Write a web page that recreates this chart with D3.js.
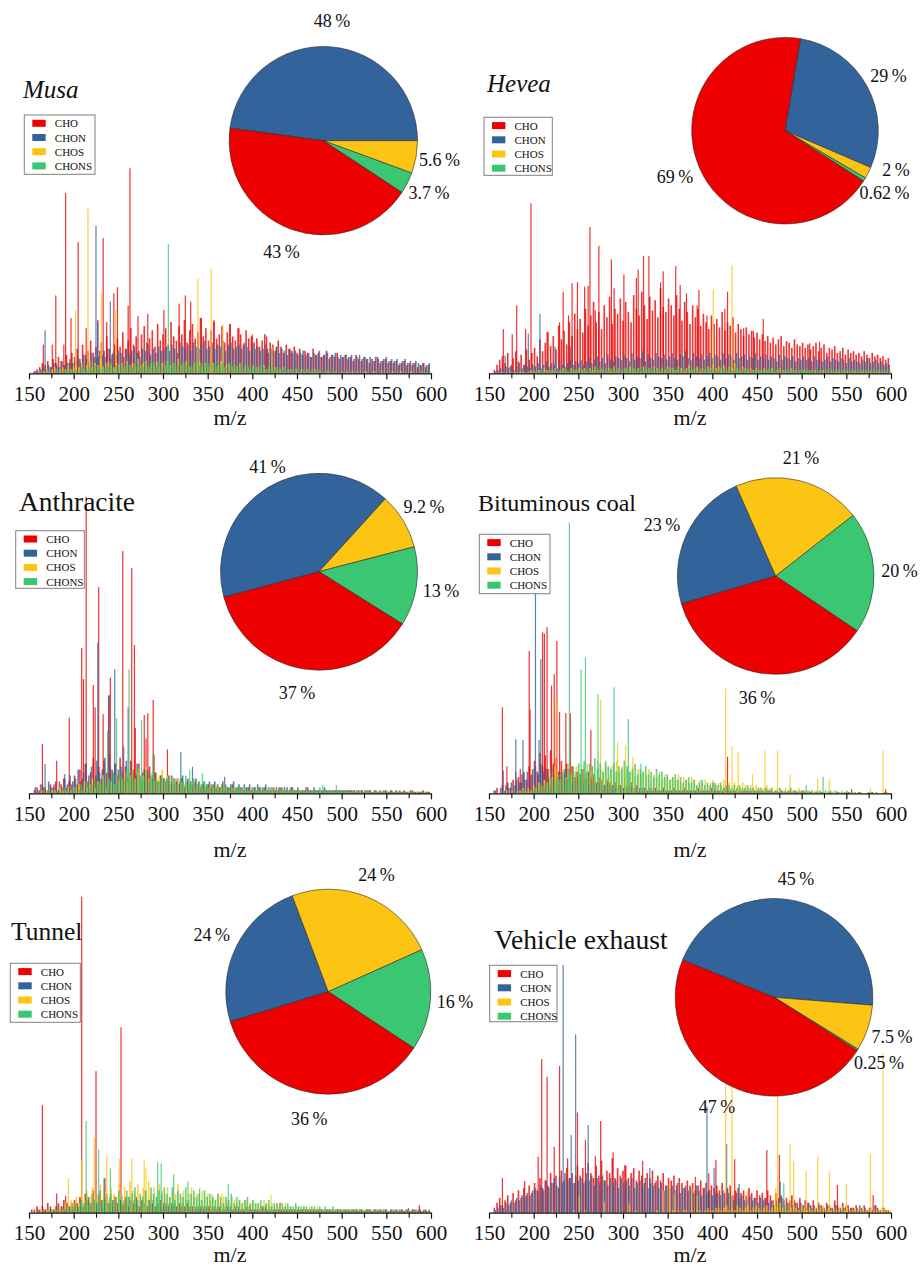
<!DOCTYPE html>
<html>
<head>
<meta charset="utf-8">
<script src="https://cdn.jsdelivr.net/npm/d3@7/dist/d3.min.js"></script>
<style>
  body { margin: 0; background: #fff; }
  svg { display: block; }
  svg text { font-family: "Liberation Serif", "Times New Roman", serif; fill: #111; }
</style>
</head>
<body>
<svg id="fig" width="921" height="1266"></svg>
<script>
// ---- compound classes ----
const classes = ["CHO", "CHON", "CHOS", "CHONS"];
const classColors = ["#ee0000", "#32649b", "#fdc513", "#3ac673"];
const pieOrder = ["CHON", "CHOS", "CHONS", "CHO"];

// ---- axis ticks ----
const majorTicks = [150, 200, 250, 300, 350, 400, 450, 500, 550, 600];
const minorTicks = [175, 225, 275, 325, 375, 425, 475, 525, 575];

// ---- class shares (%) in CHO, CHON, CHOS, CHONS order ----
const pieMusa       = [43, 48, 5.6, 3.7];
const pieHevea      = [69, 29, 2, 0.62];
const pieAnthracite = [37, 41, 9.2, 13];
const pieBituminous = [36, 23, 21, 20];
const pieTunnel     = [36, 24, 24, 16];
const pieVehicle    = [47, 45, 7.5, 0.25];

// ---- spectra: background intensities every 3 m/z from 150 (relative, tallest peak = 100) ----
const baseMusaCHO = [0,0,1,2,3,5,4,6,3,7,5,8,6,4,9,5,10,
 8,12,7,14,9,11,16,10,13,8,15,11,18,12,9,14,17,
 13,20,12,16,22,14,18,11,19,23,15,17,21,13,24,16,19,
 22,14,25,18,16,23,19,26,15,21,24,17,20,27,18,22,16,
 21,25,17,19,23,15,20,24,18,16,22,19,14,21,17,18,15,
 17,13,16,19,12,15,14,11,16,13,10,14,12,11,13,10,12,
 9,11,10,8,12,9,10,8,9,11,7,9,8,10,7,8,9,
 7,8,6,9,7,6,8,7,5,7,6,8,5,6,7,5,6,
 5,6,4,5,6,4,5,4,5,3,4,5,3,4];
const baseMusaCHON = [0,0,1,1,2,3,2,4,3,5,4,3,6,4,5,7,5,
 6,8,5,9,7,6,10,8,7,11,9,8,12,7,10,9,11,
 10,8,12,9,11,13,10,8,12,11,14,9,12,10,13,11,12,
 13,11,14,12,10,15,13,12,14,11,15,13,12,14,16,12,13,
 15,12,14,13,16,11,14,15,12,13,14,12,15,13,11,14,12,
 13,11,12,14,10,12,11,13,10,12,11,9,12,10,11,9,10,
 11,9,10,8,10,9,11,8,9,10,8,9,10,8,9,8,9,
 8,9,7,8,9,7,8,7,8,6,8,7,6,7,8,6,7,
 6,7,5,6,7,5,6,5,6,5,4,5,4,5];
const baseMusaCHOS = [0,0,0,1,0,1,2,1,2,3,1,2,3,2,4,2,3,
 4,3,5,2,4,6,3,5,4,7,3,5,6,4,3,5,4,
 5,3,6,4,5,3,7,4,5,6,3,5,4,6,3,5,4,
 6,4,5,3,7,4,5,6,4,3,5,4,6,3,5,4,3,
 5,3,4,6,3,4,5,3,4,3,5,2,4,3,2,4,3,
 3,2,4,2,3,1,3,2,2,3,1,2,2,1,2,1,2,
 1,2,1,1,2,1,1,0,1,1,0,1,1,0,1,0,1,
 0,1,0,1,0,0,1,0,0,1,0,0,1,0,0,0,1,
 0,0,1,0,0,0,1,0,0,0,1,0,0,1];
const baseMusaCHONS = [0,0,0,0,1,0,1,1,0,1,2,1,1,2,1,2,1,
 2,1,3,2,2,3,2,4,3,2,4,3,3,5,2,4,3,
 4,3,5,4,3,5,4,6,3,5,4,5,6,4,5,3,6,
 5,4,6,5,4,6,5,4,6,3,5,6,4,5,4,6,5,
 4,5,6,4,5,3,5,4,5,4,3,5,4,3,4,3,4,
 3,4,3,2,4,3,2,3,3,2,3,2,2,3,2,2,1,
 2,1,2,2,1,1,2,1,1,2,1,1,1,0,1,1,0,
 1,0,1,1,0,1,0,1,0,0,1,0,1,0,0,1,0,
 0,1,0,0,1,0,0,1,0,0,1,0,1,1];

const baseHeveaCHO = [0,0,2,5,8,10,6,12,4,9,13,7,11,5,14,8,12,
 15,10,20,13,18,24,16,22,14,28,20,25,17,30,22,35,26,
 32,24,38,28,34,42,30,36,26,40,33,45,29,38,35,44,31,
 42,36,30,46,38,34,48,40,32,45,37,43,33,50,39,36,44,
 40,34,46,38,31,42,36,29,40,33,38,28,35,30,26,34,29,
 32,27,36,25,30,28,33,24,29,26,22,27,23,25,21,24,20,
 23,19,22,18,21,17,20,22,16,19,18,15,20,17,16,18,15,
 17,14,16,18,13,15,17,12,15,14,16,12,13,15,11,14,12,
 13,11,12,10,13,11,9,12,10,11,9,10,8,9];
const baseHeveaCHON = [0,0,1,2,3,2,4,3,5,2,4,6,3,5,4,3,5,
 4,6,3,5,7,4,6,5,3,7,5,4,6,8,5,7,6,
 8,5,7,9,6,8,10,7,9,6,11,8,7,10,9,8,11,
 9,7,12,8,10,9,13,7,11,9,8,12,10,9,11,8,10,
 12,9,8,11,10,13,9,8,12,10,9,11,8,10,12,9,11,
 10,8,12,9,11,10,8,12,9,10,11,8,10,9,12,8,10,
 9,11,8,10,9,7,11,8,10,9,8,10,7,9,8,10,8,
 9,7,10,8,9,7,8,10,7,9,8,7,9,8,6,9,7,
 8,7,6,8,7,9,6,7,8,6,7,5,6,5];
const baseHeveaCHOS = [0,0,0,0,1,0,0,1,0,1,0,1,1,0,1,2,1,
 1,2,1,3,2,1,2,3,1,2,3,2,1,3,2,2,3,
 2,3,1,3,2,4,2,3,2,1,3,2,4,2,3,1,3,
 2,4,3,2,3,1,4,2,3,2,4,3,2,3,2,4,3,
 3,2,4,3,2,3,5,2,3,4,2,3,2,4,3,5,3,
 4,3,5,2,4,3,6,3,2,4,3,2,3,2,3,2,2,
 3,2,2,3,1,2,3,2,2,1,3,2,2,1,2,2,1,
 2,1,2,1,2,2,1,2,1,1,2,1,1,2,1,1,2,
 1,1,2,1,1,2,1,1,1,2,1,1,1,1];
const baseHeveaCHONS = [0,0,0,0,0,1,0,0,1,0,1,0,1,1,0,1,1,
 1,1,2,1,2,1,2,3,1,2,2,3,1,2,3,2,2,
 3,2,2,3,1,3,2,4,2,3,2,3,4,2,3,2,3,
 3,2,4,3,2,3,2,4,3,2,3,2,3,4,2,3,2,
 3,2,3,2,4,2,3,2,3,2,3,2,2,3,2,3,2,
 2,3,2,2,3,2,2,3,2,2,2,3,2,2,2,3,2,
 2,2,3,2,2,2,3,2,2,2,2,3,2,2,2,2,3,
 2,2,2,3,2,2,2,2,3,2,2,2,2,3,2,2,2,
 2,2,3,2,2,2,2,3,2,2,2,2,2,2];

const baseAnthraciteCHO = [0,0,1,2,1,3,2,1,3,2,4,1,3,5,2,4,3,
 6,3,8,5,10,4,7,12,6,9,5,11,7,13,8,10,6,
 12,7,9,5,11,8,6,10,4,8,6,9,5,7,4,6,5,
 4,6,3,5,4,3,5,2,4,3,2,4,3,2,3,2,3,
 2,3,2,2,3,1,2,2,3,1,2,2,1,2,2,1,2,
 1,2,1,2,1,1,2,1,1,2,1,1,1,2,1,1,1,
 1,1,2,1,1,1,1,1,1,1,1,1,1,1,1,1,1,
 1,1,1,0.5,1,1,0.5,1,1,0.5,1,0.5,1,0.5,1,0.5,1,
 0.5,1,0.5,0.5,1,0.5,0.5,1,0.5,0.5,0.5,1,0.5,0.5];
const baseAnthraciteCHON = [0,0,2,1,3,2,1,4,2,3,1,4,2,5,3,6,4,
 5,8,4,7,10,6,9,5,11,7,8,12,6,9,7,10,8,
 9,6,11,7,8,5,10,6,7,4,8,5,6,7,4,6,5,
 5,4,6,3,5,4,6,3,5,4,3,5,4,3,4,3,4,
 3,4,3,2,4,3,2,3,4,2,3,2,3,2,3,2,2,
 3,2,2,3,2,2,1,2,2,1,2,2,1,2,1,2,1,
 1,2,1,1,2,1,1,1,2,1,1,1,1,1,1,1,1,
 1,1,1,1,0.5,1,1,0.5,1,0.5,1,0.5,0.5,1,0.5,0.5,1,
 0.5,0.5,1,0.5,0.5,0.5,1,0.5,0.5,0.5,0.5,0.5,0.5,0.5];
const baseAnthraciteCHOS = [0,0,0,0,1,0,1,0,1,1,0,2,1,1,2,1,2,
 2,3,1,4,2,3,5,2,4,3,6,2,5,4,3,6,4,
 5,7,4,6,8,5,7,4,6,9,5,7,4,6,5,8,4,
 6,4,5,3,5,4,3,5,3,4,2,4,3,2,3,2,3,
 2,3,2,2,3,2,1,2,2,1,2,1,2,1,1,2,1,
 1,2,1,1,1,2,1,1,1,1,1,1,1,1,0.5,1,1,
 0.5,1,0.5,1,0.5,0.5,1,0.5,0.5,0.5,1,0.5,0.5,0.5,0.5,0.5,0.5,
 0.5,0.5,0,0.5,0.5,0,0.5,0.5,0,0.5,0,0.5,0.5,0,0.5,0,0.5,
 0,0.5,0,0.5,0,0.5,0,0,0.5,0,0,0.5,0,0];
const baseAnthraciteCHONS = [0,0,0,0,0,1,0,1,0,1,1,0,1,2,1,1,2,
 2,1,3,2,4,2,3,5,3,4,6,3,5,4,7,3,5,
 6,4,8,5,7,4,9,6,5,8,4,6,7,5,4,6,5,
 5,6,4,5,3,5,4,6,3,4,5,3,4,3,4,3,3,
 3,2,3,2,3,2,2,3,2,2,3,2,2,2,1,2,2,
 2,1,2,1,2,1,2,1,1,2,1,1,2,1,1,1,1,
 1,1,1,1,1,1,2,1,1,1,1,1,1,1,1,1,1,
 1,0.5,1,0.5,1,0.5,0.5,1,0.5,0.5,1,0.5,0.5,0.5,1,0.5,0.5,
 0.5,0.5,0.5,0.5,0.5,0,0.5,0.5,0,0.5,0.5,0,0.5,0];

const baseBituminousCHO = [0,0,1,2,0,3,1,4,2,5,3,6,4,8,5,10,7,
 12,8,15,10,14,9,16,11,13,8,12,7,11,9,10,6,8,
 7,9,5,8,6,7,4,6,5,3,5,4,3,4,2,3,2,
 3,2,4,2,3,1,2,2,1,2,1,2,1,1,2,1,1,
 1,2,1,1,1,2,1,1,1,1,2,1,1,1,1,2,1,
 1,1,1,2,1,1,1,1,1,1,1,1,1,1,1,1,1,
 1,0.5,1,1,0.5,1,0.5,1,0.5,0.5,1,0.5,1,0.5,0.5,1,0.5,
 0.5,0.5,0,0.5,0,0.5,0,0,0.5,0,0,0.5,0,0,0,0.5,0,
 0,0,0.5,0,0,0,0,0.5,0,0,0,0,0.5,0];
const baseBituminousCHON = [0,0,1,0,2,1,3,2,4,3,5,4,7,5,8,6,9,
 10,7,11,8,9,6,10,7,5,8,6,9,5,7,4,6,5,
 5,4,6,3,5,4,3,4,2,3,4,2,3,2,3,2,2,
 2,3,2,1,2,2,1,2,1,1,2,1,1,1,1,1,1,
 1,1,1,1,1,1,1,1,1,1,1,1,1,1,1,1,1,
 1,1,0.5,1,1,0.5,1,0.5,1,0.5,1,0.5,0.5,1,0.5,0.5,0.5,
 0.5,0.5,1,0.5,0,0.5,0.5,0,0.5,0,0.5,0,0.5,0,0,0.5,0,
 0,0.5,0,0,0.5,0,0,0,0.5,0,0,0,0,0,0.5,0,0,
 0,0,0,0,0,0,0.5,0,0,0,0,0,0,0];
const baseBituminousCHOS = [0,0,0,0,0,0,1,0,1,0,1,1,2,1,2,1,3,
 2,4,3,5,4,8,6,10,7,5,9,6,11,7,8,10,6,
 9,7,11,8,10,6,12,9,8,11,7,10,9,12,8,10,7,
 9,8,10,6,9,7,8,6,9,5,7,6,8,5,7,6,5,
 6,5,7,4,6,5,4,6,5,3,5,4,5,3,4,5,3,
 4,3,5,3,4,2,4,3,2,4,3,2,3,2,3,2,2,
 2,3,2,2,1,2,2,1,2,1,2,1,1,2,1,1,1,
 1,1,1,0.5,1,0.5,1,1,0.5,1,0.5,0.5,1,0.5,0.5,0.5,0,
 0.5,0,0.5,0,0,0.5,0,0,0.5,0,0,0,0.5,0];
const baseBituminousCHONS = [0,0,0,0,0,1,0,0,1,0,1,0,1,1,0,1,1,
 2,1,3,2,4,3,5,4,6,5,8,6,9,7,10,8,11,
 9,12,8,11,10,13,9,11,8,12,10,9,11,8,10,9,12,
 10,8,9,11,7,9,8,10,7,8,6,9,7,8,6,7,5,
 6,7,5,6,4,5,6,4,5,3,4,5,3,4,3,4,3,
 3,4,2,3,3,2,3,2,3,2,2,3,2,2,1,2,2,
 1,2,1,2,1,1,2,1,1,1,2,1,1,1,1,1,1,
 1,1,0.5,1,1,0.5,1,0.5,1,0.5,1,0.5,0.5,0.5,1,0.5,0.5,
 0.5,0,0.5,0,0,0.5,0,0,0.5,0,0,0.5,0,0];

const baseTunnelCHO = [0,1,1,2,1,2,1,3,2,1,2,3,2,4,3,2,3,
 4,3,5,2,6,4,3,7,2,5,4,3,6,3,4,5,3,
 4,3,5,2,4,3,5,2,4,3,2,4,3,2,3,4,2,
 3,2,3,2,2,3,2,2,3,2,2,1,2,2,1,2,2,
 1,2,1,2,1,1,2,1,1,2,1,1,1,2,1,1,1,
 1,1,2,1,1,1,1,1,1,1,1,1,1,1,1,1,1,
 1,1,1,1,1,1,1,1,0.5,1,1,1,0.5,1,1,0.5,1,
 1,0.5,1,1,0.5,1,0.5,1,1,0.5,1,0.5,1,0.5,1,0.5,1,
 0.5,1,0.5,1,0.5,1,0.5,1,1,0.5,1,0.5,1,0.5];
const baseTunnelCHON = [0,0,0,1,0,1,1,0,1,1,2,1,2,1,3,2,1,
 3,2,4,2,3,5,2,4,3,6,2,4,3,5,2,4,3,
 4,2,3,5,2,4,3,2,4,3,2,3,4,2,3,2,3,
 2,3,2,3,2,2,3,2,2,1,2,2,1,2,2,1,2,
 2,1,2,1,1,2,1,2,1,1,2,1,1,1,2,1,1,
 1,1,1,2,1,1,1,1,1,1,1,1,1,1,1,1,1,
 1,1,1,1,1,1,1,1,1,1,1,0.5,1,1,1,1,0.5,
 1,1,0.5,1,1,1,0.5,1,1,0.5,1,1,0.5,1,1,0.5,1,
 1,0.5,1,1,0.5,1,0.5,1,0.5,1,0.5,1,0.5,1];
const baseTunnelCHOS = [0,0,0,0,1,0,1,0,1,2,1,2,1,3,2,4,3,
 5,3,6,4,7,5,8,4,6,9,5,7,4,8,6,5,9,
 6,8,5,10,7,6,9,5,8,7,10,6,8,5,9,7,6,
 8,5,7,6,9,5,7,4,6,8,5,6,4,7,5,6,4,
 5,4,6,3,5,4,3,5,4,3,4,3,4,2,3,4,3,
 3,2,4,3,2,3,2,3,2,2,3,2,2,1,2,2,1,
 2,1,2,1,1,2,1,1,1,1,1,1,1,1,1,0.5,1,
 1,0.5,1,0.5,0.5,1,0.5,0.5,1,0.5,0.5,0.5,1,0.5,0.5,0.5,0.5,
 0.5,0.5,0.5,0,0.5,0.5,0,0.5,0.5,0,0.5,0,0.5,0.5];
const baseTunnelCHONS = [0,0,0,0,0,1,0,1,0,1,1,0,1,1,2,1,2,
 3,2,4,3,5,3,6,4,3,7,4,5,3,6,4,5,7,
 5,4,7,5,6,8,4,6,5,7,4,8,6,5,7,6,8,
 6,5,8,4,7,6,5,8,4,6,7,5,6,4,7,5,6,
 5,4,6,5,3,5,4,6,3,5,4,3,4,5,3,4,3,
 3,4,2,3,4,2,3,3,2,3,2,3,2,2,3,2,2,
 2,2,1,2,2,1,2,1,2,1,1,2,1,1,1,1,1,
 1,1,1,1,1,0.5,1,1,0.5,1,1,0.5,1,0.5,1,0.5,1,
 0.5,1,0.5,0.5,1,0.5,0.5,0.5,1,0.5,0.5,0.5,0.5,0.5];

const baseVehicleCHO = [0,0,2,4,6,3,5,7,4,8,5,9,6,10,7,11,8,
 12,9,14,10,13,11,16,12,15,10,17,13,18,14,16,12,19,
 15,18,13,20,16,14,19,15,21,13,17,16,22,14,18,15,17,
 19,14,16,18,13,17,15,12,16,14,17,12,15,13,16,11,14,
 13,15,11,14,12,10,13,11,12,9,11,13,10,12,9,11,10,
 11,9,12,8,10,11,7,9,10,8,9,7,10,8,6,9,7,
 8,6,9,7,5,8,6,7,5,6,4,7,5,4,6,3,5,
 4,3,5,2,4,3,2,4,3,2,5,3,2,4,2,3,2,
 2,3,1,2,3,1,2,1,3,2,1,2,1,1];
const baseVehicleCHON = [0,0,1,2,3,2,4,3,5,4,6,5,7,6,8,7,9,
 10,8,11,9,13,10,12,14,11,15,12,16,13,14,12,15,13,
 14,12,16,13,15,11,14,12,15,13,11,14,12,13,10,14,12,
 13,11,14,10,12,13,11,14,10,12,11,13,10,12,9,11,10,
 11,9,12,8,10,11,9,10,8,11,9,7,10,8,9,7,8,
 8,7,9,6,8,7,5,8,6,7,5,6,7,5,6,4,6,
 5,6,4,5,3,5,4,6,3,4,5,3,4,2,4,3,2,
 4,2,3,1,3,2,1,3,2,1,3,2,1,2,3,1,2,
 1,2,3,1,2,1,2,0,3,1,0,2,1,0];
const baseVehicleCHOS = [0,0,0,0,0,0,0,0,0,0,0,0,0,0,0,0,0,
 0,0,0,0,0,0,1,0,0,0,0,0,0,0,1,0,0,
 0,1,0,0,0,0,0,0,0,0,0,0,0,0,0,0,0,
 0,0,0,1,0,0,0,0,0,0,0,1,0,0,0,0,0,
 1,0,1,0,1,1,0,1,0,1,1,0,1,2,1,1,2,
 2,1,2,3,1,2,1,3,2,1,2,3,1,2,3,2,1,
 2,3,1,2,3,2,4,2,3,1,2,3,2,1,3,2,1,
 2,1,2,1,2,3,1,2,1,2,1,2,3,1,2,1,1,
 2,1,1,2,1,1,2,1,1,1,2,1,1,1];
const baseVehicleCHONS = [];

// ---- spectra: distinct peaks [m/z, relative intensity] ----
const peaksMusaCHO = [[263,100],[191,88],[233,66],[205,64],[249,42],[245,39],[180,38],[261,33],[197,27],
 [325,38],[331,35],[318,34],[301,31],[283,29],[272,28],[343,27],[214,22],[237,25],[227,26],
 [166,14],[176,14],[189,14],[357,26],[375,24],[385,22],[400,19],[416,18],[427,13],[442,11]];
const peaksMusaCHON = [[225,72],[241,35],[168,21],[227,25]];
const peaksMusaCHOS = [[216,80.5],[354,51],[339,46],[231,39],[247,31],[202,31],[367,24],[422,13]];
const peaksMusaCHONS = [[306,63]];

const peaksHeveaCHO = [[197,100],[263,86],[273,75],[287,67],[323,69],[329,69],[317,61],[345,60],[359,63],
 [301,58],[249,53.5],[243,53],[233,48],[257,51],[261,51.5],[290,50],[315,56],[342,53.5],[364,52],
 [371,47],[385,49],[383,40],[181,40],[166,26],[176,23],[191,26],[215,24.5],[229,30],[239,34],
 [269,37],[394,34],[417,48],[414,38],[457,32],[435,26.5],[446,25],[509,17.6],[520,18.6]];
const peaksHeveaCHON = [[207,35],[194,23.5],[224,15.6],[168,10.5],[241,15.6]];
const peaksHeveaCHOS = [[422,63.7],[401,49.4]];
const peaksHeveaCHONS = [];

const peaksAnthraciteCHO = [[214,100],[255,81.7],[265,76],[228,69.5],[268,50],[209,49],[211,38.5],[241,39],
 [222,36.5],[239,33],[224,29],[289,31.5],[283,27],[279,26.4],[195,25.5],[233,26.7],[165,16.6],
 [181,11],[305,14.8],[290,13],[269,22],[281,18.5]];
const peaksAnthraciteCHON = [[227,50.8],[246,41.8],[240,33],[261,29],[256,15.7],[168,9.9],[190,6.5],
 [320,14],[333,9],[369,5.6]];
const peaksAnthraciteCHOS = [[273,8.4],[262,7],[296,6]];
const peaksAnthraciteCHONS = [[262,41.8],[276,24.7],[248,25.3],[238,21],[289,13],[330,7.9],[344,6.7],
 [479,2.8],[494,2.8]];

const peaksBituminousCHO = [[215,61.4],[210,59.5],[212,59],[195,52.6],[226,56.3],[223,44],[220,39.8],
 [165,31.8],[196,31],[241,29.6],[236,29.7],[229,30],[264,23.4],[170,10],[417,13.5],[556,1.5],
 [594,1.5],[180,8],[185,9]];
const peaksBituminousCHON = [[202,85],[208,49.6],[180,20],[188,19.7],[206,19.7],[166,8.4],[403,3.9],[460,2]];
const peaksBituminousCHOS = [[415,38.8],[422,17.5],[429,15.4],[459,15.7],[473,15.7],[445,7],[487,6.8],
 [518,5.5],[531,5],[591,15.7],[577,1.8],[275,34.5],[225,35.3],[294,19],[303,17.8],[311,13.5]];
const peaksBituminousCHONS = [[240,100],[258,50.3],[253,45.8],[272,36.6],[290,39.2],[306,27.5],[320,11],
 [524,6.1],[505,3]];

const peaksTunnelCHO = [[209,100],[253,58.7],[225,44.8],[165,34],[235,10.9],[181,6.1],[191,5.3],
 [431,3.2],[587,2.4],[575,1.4]];
const peaksTunnelCHON = [[234,10.9],[208,4.5]];
const peaksTunnelCHOS = [[223,23.8],[237,18],[209,16.9],[251,17],[265,17],[279,16.8],[194,10.9],
 [281,14],[355,5.9],[366,6],[394,4],[421,5.6]];
const peaksTunnelCHONS = [[214,29],[228,20],[294,16],[298,15.6],[241,14],[312,12.2],[328,9.8],
 [341,7.7],[373,9]];

const peaksVehicleCHO = [[209,62],[229,59.2],[215,54.9],[249,40.5],[275,37],[223,26.6],[205,22.6],
 [258,29.3],[238,22],[289,24.4],[269,23],[165,14],[190,12.8],[381,14.5],[396,15.9],[302,19.3],
 [322,20.9],[404,21.3],[425,21.6],[461,25.3],[475,23.3],[540,11.2],[580,7.1]];
const peaksVehicleCHON = [[233,100],[247,72],[242,31.4],[261,35.4],[394,42.8],[330,18],[402,18],
 [416,27.7],[476,12.5],[430,11.6]];
const peaksVehicleCHOS = [[591,64.4],[415,56.5],[422,52.5],[473,52.5],[487,27.7],[491,20.9],[505,16.8],
 [518,22.6],[531,16.6],[550,11.6],[577,23.7],[251,7],[279,4.4],[307,3.8],[345,9],[352,12],
 [358,8],[377,10],[383,7],[439,9],[471,10]];
const peaksVehicleCHONS = [[480,11.9]];

// ---- panel layout ----
const panels = [
  { title: "Musa", italic: true, tx: 23, ty: 98, ts: 25,
    x0: 29, x1: 431, baseY: 373.3, H: 205, mzY: 425,
    base: [baseMusaCHO, baseMusaCHON, baseMusaCHOS, baseMusaCHONS],
    peaks: [peaksMusaCHO, peaksMusaCHON, peaksMusaCHOS, peaksMusaCHONS],
    pie: { cx: 323.3, cy: 140.7, r: 94.2, start: -82.3, values: pieMusa,
           labels: [[281.5, 258], [332, 27], [439.5, 166], [429, 199]] },
    legend: { x: 24.3, y: 115, w: 70.7, h: 59.3 } },
  { title: "Hevea", italic: true, tx: 487, ty: 92, ts: 25,
    x0: 489, x1: 891, baseY: 373.3, H: 170, mzY: 425,
    base: [baseHeveaCHO, baseHeveaCHON, baseHeveaCHOS, baseHeveaCHONS],
    peaks: [peaksHeveaCHO, peaksHeveaCHON, peaksHeveaCHOS, peaksHeveaCHONS],
    pie: { cx: 785, cy: 130.7, r: 93.3, start: 9.5, values: pieHevea,
           labels: [[675, 183], [888.5, 82], [896, 176], [884.5, 199]] },
    legend: { x: 484, y: 117.3, w: 68.3, h: 58 } },
  { title: "Anthracite", italic: false, tx: 19, ty: 511, ts: 27.5,
    x0: 29, x1: 431, baseY: 793.3, H: 296.6, mzY: 857,
    base: [baseAnthraciteCHO, baseAnthraciteCHON, baseAnthraciteCHOS, baseAnthraciteCHONS],
    peaks: [peaksAnthraciteCHO, peaksAnthraciteCHON, peaksAnthraciteCHOS, peaksAnthraciteCHONS],
    pie: { cx: 319, cy: 571.7, r: 98.5, start: -105, values: pieAnthracite,
           labels: [[297, 699], [267.5, 473], [424, 513], [441, 597]] },
    legend: { x: 15.7, y: 530.7, w: 68.6, h: 57.6 } },
  { title: "Bituminous coal", italic: false, tx: 478, ty: 511, ts: 24,
    x0: 489, x1: 891, baseY: 793.3, H: 270.6, mzY: 857,
    base: [baseBituminousCHO, baseBituminousCHON, baseBituminousCHOS, baseBituminousCHONS],
    peaks: [peaksBituminousCHO, peaksBituminousCHON, peaksBituminousCHOS, peaksBituminousCHONS],
    pie: { cx: 775.7, cy: 576, r: 98.3, start: -106.5, values: pieBituminous,
           labels: [[757, 704], [662, 531], [801, 464], [899.5, 577]] },
    legend: { x: 479.3, y: 534.3, w: 70.7, h: 59.4 } },
  { title: "Tunnel", italic: false, tx: 11, ty: 939.5, ts: 25.5,
    x0: 29, x1: 431, baseY: 1212.7, H: 316, mzY: 1262,
    base: [baseTunnelCHO, baseTunnelCHON, baseTunnelCHOS, baseTunnelCHONS],
    peaks: [peaksTunnelCHO, peaksTunnelCHON, peaksTunnelCHOS, peaksTunnelCHONS],
    pie: { cx: 328.3, cy: 991.7, r: 102.5, start: -107, values: pieTunnel,
           labels: [[309.3, 1125], [211.7, 941], [376.5, 881], [455, 1008]] },
    legend: { x: 10.3, y: 963.3, w: 70, h: 59 } },
  { title: "Vehicle exhaust", italic: false, tx: 494.3, ty: 948.5, ts: 27.5,
    x0: 489, x1: 891, baseY: 1212.7, H: 247.7, mzY: 1262,
    base: [baseVehicleCHO, baseVehicleCHON, baseVehicleCHOS, baseVehicleCHONS],
    peaks: [peaksVehicleCHO, peaksVehicleCHON, peaksVehicleCHOS, peaksVehicleCHONS],
    pie: { cx: 774, cy: 997.3, r: 98.8, start: -67.8, values: pieVehicle,
           labels: [[717, 1113], [796, 885], [892, 1043], [879, 1069]] },
    legend: { x: 489.7, y: 965.3, w: 67.3, h: 56.4 } }
];

const serif = "'Liberation Serif', 'Times New Roman', serif";
const classOffset = [0, 1, 2, 1.5];
const svg = d3.select("#fig");
svg.append("rect").attr("width", 921).attr("height", 1266).attr("fill", "#fff");

panels.forEach(p => {
  const g = svg.append("g");
  const x = d3.scaleLinear().domain([150, 600]).range([p.x0, p.x1]);
  const y = d3.scaleLinear().domain([0, 100]).range([p.baseY, p.baseY - p.H]);

  // spectrum sticks, one layer per class (background sticks a little wider than the named peaks)
  classes.forEach((c, i) => {
    const sticks = p.base[i]
      .map((v, k) => ({ mz: 150 + 3 * k + classOffset[i], v, w: 1.6 }))
      .filter(d => d.v > 0)
      .concat(p.peaks[i].map(([mz, v]) => ({ mz, v, w: 1.2 })));
    g.append("g")
      .attr("fill", classColors[i])
      .attr("fill-opacity", 0.8)
      .selectAll("rect")
      .data(sticks)
      .join("rect")
      .attr("x", d => x(d.mz) - d.w / 2)
      .attr("width", d => d.w)
      .attr("y", d => y(d.v))
      .attr("height", d => y(0) - y(d.v));
  });

  // m/z axis
  const ax = g.append("g").attr("transform", `translate(0,${p.baseY})`)
    .call(d3.axisBottom(x).tickValues(majorTicks).tickSize(6).tickSizeOuter(0).tickFormat(d3.format("d")));
  ax.attr("font-family", serif).attr("font-size", 21);
  ax.select(".domain").attr("stroke", "#111").attr("stroke-width", 1.2);
  ax.selectAll(".tick line").attr("stroke", "#111").attr("stroke-width", 1.2);
  ax.selectAll(".tick text")
    .attr("y", 27.7).attr("dy", null)
    .style("font-family", serif)
    .style("font-size", "21px").attr("fill", "#111");
  const axm = g.append("g").attr("transform", `translate(0,${p.baseY})`)
    .call(d3.axisBottom(x).tickValues(minorTicks).tickSize(5).tickSizeOuter(0).tickFormat(""));
  axm.select(".domain").remove();
  axm.selectAll(".tick line").attr("stroke", "#111").attr("stroke-width", 1.1);

  g.append("text")
    .attr("x", (p.x0 + p.x1) / 2).attr("y", p.mzY)
    .attr("text-anchor", "middle")
    .style("font-family", serif)
    .style("font-size", "22px")
    .text("m/z");

  // class share pie
  const a0 = p.pie.start * Math.PI / 180;
  const pieData = pieOrder.map(c => ({ c, v: p.pie.values[classes.indexOf(c)] }));
  const arcs = d3.pie().sort(null).value(d => d.v).startAngle(a0).endAngle(a0 + 2 * Math.PI)(pieData);
  const arc = d3.arc().innerRadius(0).outerRadius(p.pie.r);
  const pg = g.append("g").attr("transform", `translate(${p.pie.cx},${p.pie.cy})`);
  pg.selectAll("path").data(arcs).join("path")
    .attr("d", arc)
    .attr("fill", d => classColors[classes.indexOf(d.data.c)])
    .attr("stroke", "#2b2b2b").attr("stroke-width", 0.6);

  classes.forEach((c, i) => {
    const [lx, ly] = p.pie.labels[i];
    g.append("text")
      .attr("x", lx).attr("y", ly)
      .attr("text-anchor", "middle")
      .style("font-family", serif)
      .style("font-size", "18px")
      .text(`${p.pie.values[i]}\u2009%`);
  });

  // legend
  const L = p.legend;
  const lg = g.append("g").attr("transform", `translate(${L.x},${L.y})`);
  lg.append("rect").attr("width", L.w).attr("height", L.h)
    .attr("fill", "#fff").attr("stroke", "#808080").attr("stroke-width", 1);
  classes.forEach((c, i) => {
    const cy = 8.3 + i * 14.2;
    lg.append("rect").attr("x", 8).attr("y", cy - 3.5).attr("width", 13.4).attr("height", 7)
      .attr("fill", classColors[i]);
    lg.append("text").attr("x", 30.5).attr("y", cy + 4)
      .style("font-family", serif)
      .style("font-size", "11px").text(c);
  });

  // panel title
  g.append("text")
    .attr("x", p.tx).attr("y", p.ty)
    .style("font-family", serif)
    .style("font-size", p.ts + "px")
    .style("font-style", p.italic ? "italic" : "normal")
    .text(p.title);
});
</script>
</body>
</html>
